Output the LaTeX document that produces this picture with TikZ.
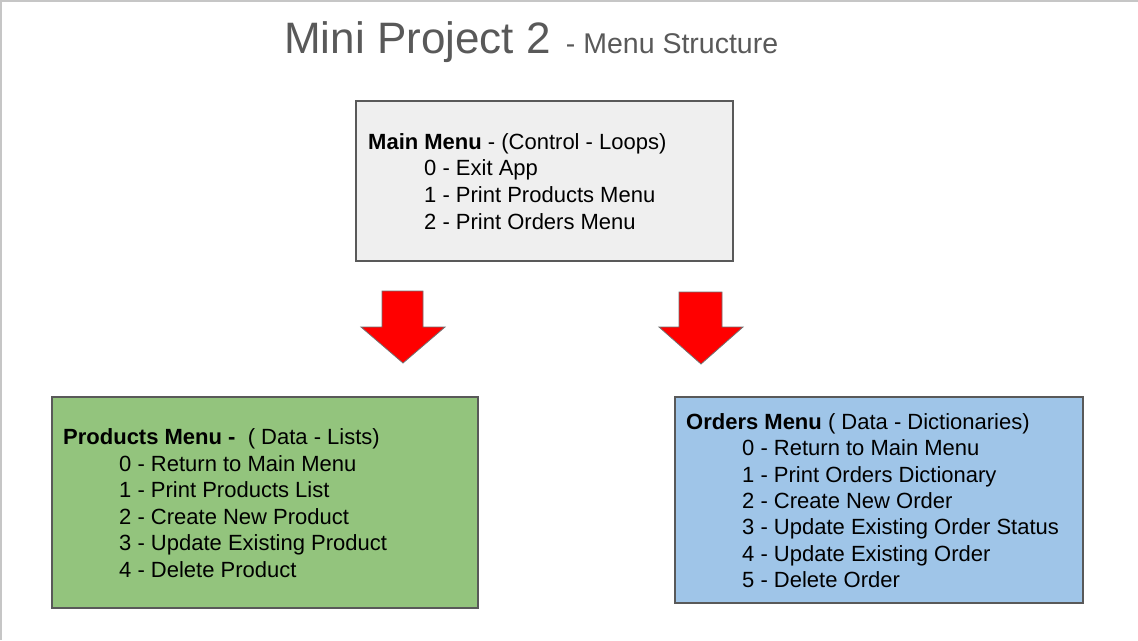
\documentclass[tikz,border=0pt]{standalone}
\usepackage{fontspec}
\setmainfont{Liberation Sans}
\definecolor{titlegray}{HTML}{595959}
\definecolor{boxline}{HTML}{595959}
\definecolor{mainfill}{HTML}{EFEFEF}
\definecolor{prodfill}{HTML}{93C47D}
\definecolor{ordfill}{HTML}{9FC5E8}
\definecolor{frameline}{HTML}{C6C6C6}
\definecolor{arrowline}{HTML}{707070}
\newcommand{\ind}{\hspace*{56pt}}
\begin{document}
\begin{tikzpicture}[x=1pt,y=-1pt,
  menubox/.style={draw=boxline,line width=1.3pt,inner sep=0pt},
  menutext/.style={anchor=north west,align=left,inner sep=0pt,text=black},
  bigarrow/.style={fill=red,draw=arrowline,line width=0.8pt,line join=miter}]
\useasboundingbox (0,0) rectangle (1138,640);
\fill[white] (0,0) rectangle (1138,640);
\draw[frameline,line width=1.6pt] (0,0.8) -- (1138,0.8);
\draw[frameline,line width=1.6pt] (0.8,0) -- (0.8,640);
% title
\node[anchor=base west,inner sep=0pt,text=titlegray,font=\fontsize{44}{52}\selectfont] (title) at (284,53.3)
  {Mini Project 2\hspace{3pt} {\fontsize{28.5}{34}\selectfont - Menu Structure}};
% boxes
\node[menubox,fill=mainfill,minimum width=377pt,minimum height=160pt] (main) at (544.5,181) {};
\node[menubox,fill=prodfill,minimum width=426pt,minimum height=211pt] (prod) at (265,502.5) {};
\node[menubox,fill=ordfill,minimum width=408pt,minimum height=206pt] (ord) at (879,500) {};
% texts
\node[menutext,font=\fontsize{22}{26.7}\selectfont] (maintext) at (368,{149-18.69})
  {\strut\textbf{Main Menu} - (Control - Loops)\\
   \ind 0 - Exit App\\
   \ind 1 - Print Products Menu\\
   \ind 2 - Print Orders Menu};
\node[menutext,font=\fontsize{22}{26.6}\selectfont] (prodtext) at (63,{444.3-18.62})
  {\strut\textbf{Products Menu -}\ \ ( Data - Lists)\\
   \ind 0 - Return to Main Menu\\
   \ind 1 - Print Products List\\
   \ind 2 - Create New Product\\
   \ind 3 - Update Existing Product\\
   \ind 4 - Delete Product};
\node[menutext,font=\fontsize{22}{26.3}\selectfont] (ordtext) at (686,{429.3-18.41})
  {\strut\textbf{Orders Menu} ( Data - Dictionaries)\\
   \ind 0 - Return to Main Menu\\
   \ind 1 - Print Orders Dictionary\\
   \ind 2 - Create New Order\\
   \ind 3 - Update Existing Order Status\\
   \ind 4 - Update Existing Order\\
   \ind 5 - Delete Order};
% block arrows
\draw[bigarrow] (382,291) -- (423,291) -- (423,327) -- (445,327) -- (403,363) -- (361,327) -- (382,327) -- cycle;
\draw[bigarrow] (679,292) -- (722,292) -- (722,327) -- (743,327) -- (701,364) -- (659,327) -- (679,327) -- cycle;
\end{tikzpicture}
\end{document}
